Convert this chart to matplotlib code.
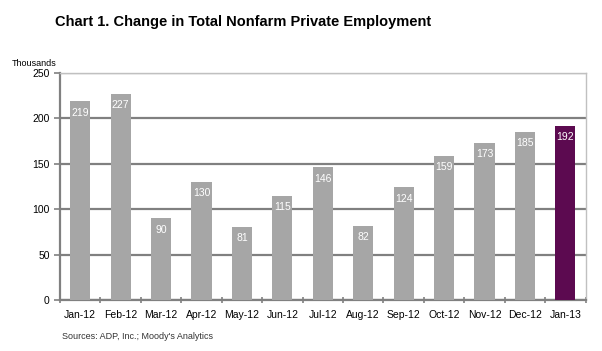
import matplotlib.pyplot as plt
import numpy as np

plt.rcParams['font.family'] = ['Liberation Sans', 'DejaVu Sans']

months = ["Jan-12", "Feb-12", "Mar-12", "Apr-12", "May-12", "Jun-12", "Jul-12",
          "Aug-12", "Sep-12", "Oct-12", "Nov-12", "Dec-12", "Jan-13"]
values = [219, 227, 90, 130, 81, 115, 146, 82, 124, 159, 173, 185, 192]

fig = plt.figure(figsize=(6.02, 3.51), dpi=100)
ax = fig.add_axes([0.0997, 0.145, 0.873, 0.647])

x = np.arange(len(months))
colors = ["#a6a6a6"] * (len(months) - 1) + ["#5c0a50"]
ax.bar(x, values, width=0.5, color=colors, zorder=3)

# value labels inside the top of each bar
for xi, v in zip(x, values):
    ax.text(xi, v - 7, str(v), ha="center", va="top", color="white",
            fontsize=7.5, zorder=4)

ax.set_xlim(-0.5, len(months) - 0.5)
ax.set_ylim(0, 250)
ax.set_yticks(range(0, 251, 50))
ax.yaxis.grid(True, color="#808080", linewidth=1.6, zorder=1)
ax.set_xticks(x)
ax.set_xticklabels(months, fontsize=7.5)
ax.set_xticks(np.arange(-0.5, len(months), 1), minor=True)
ax.tick_params(axis="x", which="major", length=0, pad=7)
ax.tick_params(axis="x", which="minor", length=4, color="#808080", width=1.2, direction="inout")
ax.tick_params(axis="y", labelsize=7.5, length=4, color="#808080", width=1.2, direction="out")

for s in ["top", "right"]:
    ax.spines[s].set_color("#c0c0c0")
    ax.spines[s].set_linewidth(1)
for s in ["left", "bottom"]:
    ax.spines[s].set_color("#808080")
    ax.spines[s].set_linewidth(1.6)

fig.text(0.0915, 0.937, "Chart 1. Change in Total Nonfarm Private Employment",
         fontsize=10.5, fontweight="bold", va="center", ha="left")
fig.text(0.02, 0.818, "Thousands", fontsize=6.5, va="center")
fig.text(0.103, 0.04, "Sources: ADP, Inc.; Moody's Analytics", fontsize=6.5, va="center",
         color="#333333")

fig.savefig("out.png", dpi=100)
